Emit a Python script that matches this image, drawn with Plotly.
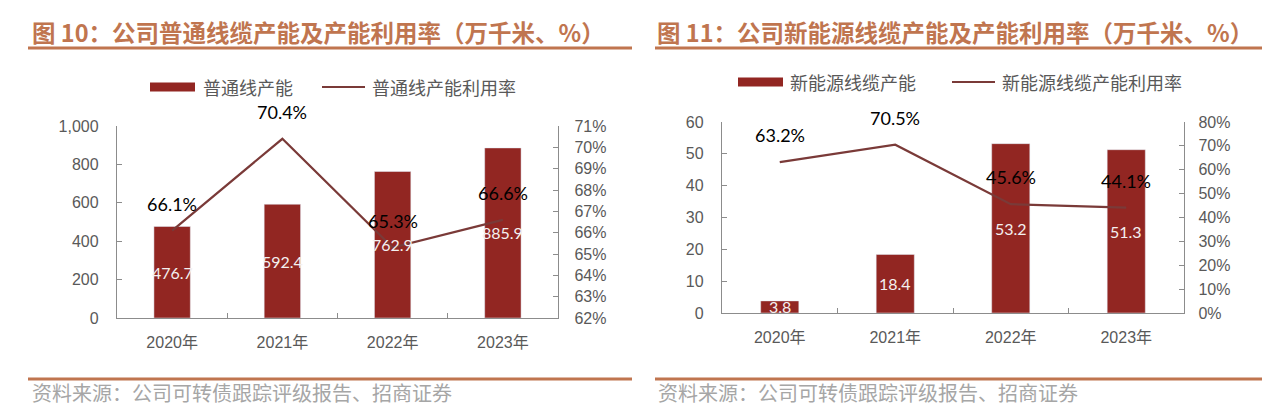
import plotly.graph_objects as go

W, H = 1269, 419

years = ["2020年", "2021年", "2022年", "2023年"]
normal_capacity = [476.7, 592.4, 762.9, 885.9]
normal_util = [0.661, 0.704, 0.653, 0.666]
ne_capacity = [3.8, 18.4, 53.2, 51.3]
ne_util = [0.632, 0.705, 0.456, 0.441]

title_left = "图 10：公司普通线缆产能及产能利用率（万千米、%）"
title_right = "图 11：公司新能源线缆产能及产能利用率（万千米、%）"
source_text = "资料来源：公司可转债跟踪评级报告、招商证券"
leg_left = ["普通线产能", "普通线产能利用率"]
leg_right = ["新能源线缆产能", "新能源线缆产能利用率"]

BAR = "#922622"
LINE = "#7A3A38"
ACC = "#C0754F"
AX = "#8C8C8C"
TXT = "#595959"
CJK = "Noto Sans CJK SC"
LAT = "Liberation Sans, Arial"
NUM = "Lato"


def px(x):
    return x / W


def py(y):
    return 1 - y / H


fig = go.Figure()

fig.add_trace(go.Bar(x=years, y=normal_capacity, marker_color=BAR, width=0.33,
                     xaxis="x", yaxis="y", showlegend=False))
fig.add_trace(go.Scatter(x=years, y=normal_util, mode="lines", line=dict(color=LINE, width=2.2),
                         xaxis="x", yaxis="y2", showlegend=False))
fig.add_trace(go.Bar(x=years, y=ne_capacity, marker_color=BAR, width=0.33,
                     xaxis="x2", yaxis="y3", showlegend=False))
fig.add_trace(go.Scatter(x=years, y=ne_util, mode="lines", line=dict(color=LINE, width=2.2),
                         xaxis="x2", yaxis="y4", showlegend=False))

tickfont = dict(family=LAT, size=16, color=TXT)
xcommon = dict(type="category", showline=True, linecolor=AX, linewidth=1.2,
               ticks="inside", ticklen=5, tickcolor=AX, tickson="boundaries",
               tickfont=dict(family=LAT + ", " + CJK, size=16, color=TXT),
               ticklabelstandoff=10, showgrid=False, zeroline=False, fixedrange=True,
               automargin=False)
ycommon = dict(showline=True, linecolor=AX, linewidth=1.2, ticks="inside", ticklen=5,
               tickcolor=AX, tickfont=tickfont, showgrid=False, zeroline=False,
               fixedrange=True, automargin=False)

dom_l_x = [px(117), px(558)]
dom_l_y = [py(318), py(126)]
dom_r_x = [px(722), px(1184)]
dom_r_y = [py(313), py(122)]

fig.update_layout(
    width=W, height=H, margin=dict(l=0, r=0, t=0, b=0, pad=0, autoexpand=False),
    paper_bgcolor="white", plot_bgcolor="white", showlegend=False, barmode="overlay",
    xaxis=dict(domain=dom_l_x, anchor="y", **xcommon),
    yaxis=dict(domain=dom_l_y, anchor="x", range=[0, 1000], dtick=200, tickformat=",d",
               ticklabelstandoff=14, **ycommon),
    yaxis2=dict(overlaying="y", side="right", anchor="x", range=[0.62, 0.71], dtick=0.01,
                tickformat=".0%", ticklabelstandoff=12, **ycommon),
    xaxis2=dict(domain=dom_r_x, anchor="y3", **xcommon),
    yaxis3=dict(domain=dom_r_y, anchor="x2", range=[0, 60], dtick=10,
                ticklabelstandoff=14, **ycommon),
    yaxis4=dict(overlaying="y3", side="right", anchor="x2", range=[0, 0.8], dtick=0.1,
                tickformat=".0%", ticklabelstandoff=10, **ycommon),
)

ann = []
shapes = []

# percent labels above line points
for cats, vals, yref in [(years, normal_util, "y2"), (years, ne_util, "y4")]:
    xref = "x" if yref == "y2" else "x2"
    for c, v in zip(cats, vals):
        ann.append(dict(x=c, y=v, xref=xref, yref=yref, text=f"{v*100:.1f}%",
                        showarrow=False, yshift=27,
                        font=dict(family=NUM, size=18, color="black")))

# bar value labels (centered in bars)
for cats, vals, xref, yref in [(years, normal_capacity, "x", "y"), (years, ne_capacity, "x2", "y3")]:
    for c, v in zip(cats, vals):
        ann.append(dict(x=c, y=v / 2, xref=xref, yref=yref, text=f"{v:.1f}",
                        showarrow=False, font=dict(family=NUM, size=16, color="#F4F0F0")))

# titles
for x0, t in [(30, title_left), (655, title_right)]:
    ann.append(dict(x=px(x0), y=py(32), xref="paper", yref="paper", xanchor="left",
                    yanchor="middle", text=f"<b>{t}</b>", showarrow=False,
                    font=dict(family=CJK, size=23.5, color=ACC)))
# sources
for x0 in [30, 656]:
    ann.append(dict(x=px(x0), y=py(392), xref="paper", yref="paper", xanchor="left",
                    yanchor="middle", text=source_text, showarrow=False,
                    font=dict(family=CJK, size=20, color="#A6A6A6")))
# rules
for (x0, x1) in [(28, 632), (655, 1262)]:
    for yy in [48, 379]:
        shapes.append(dict(type="line", xref="paper", yref="paper", x0=px(x0), x1=px(x1),
                           y0=py(yy), y1=py(yy), line=dict(color=ACC, width=3)))

# legends
legends = [
    (leg_left, (150, 195, 87), 201, (322, 365), 370),
    (leg_right, (738, 783, 82), 788, (952, 995), 1000),
]
for labels, (bx0, bx1, ly), tx1, (lx0, lx1), tx2 in legends:
    shapes.append(dict(type="rect", xref="paper", yref="paper", x0=px(bx0), x1=px(bx1),
                       y0=py(ly + 4.5), y1=py(ly - 4.5), fillcolor=BAR, line=dict(width=0)))
    shapes.append(dict(type="line", xref="paper", yref="paper", x0=px(lx0), x1=px(lx1),
                       y0=py(ly), y1=py(ly), line=dict(color=LINE, width=2.2)))
    ann.append(dict(x=px(tx1), y=py(ly), xref="paper", yref="paper", xanchor="left",
                    yanchor="middle", text=labels[0], showarrow=False,
                    font=dict(family=CJK, size=18, color=TXT)))
    ann.append(dict(x=px(tx2), y=py(ly), xref="paper", yref="paper", xanchor="left",
                    yanchor="middle", text=labels[1], showarrow=False,
                    font=dict(family=CJK, size=18, color=TXT)))

fig.update_layout(annotations=ann, shapes=shapes)
fig.write_html("out.html", config={"displayModeBar": False, "staticPlot": True},
               post_script="document.body.style.margin='0px';document.body.style.padding='0px';document.body.style.overflow='hidden';")
